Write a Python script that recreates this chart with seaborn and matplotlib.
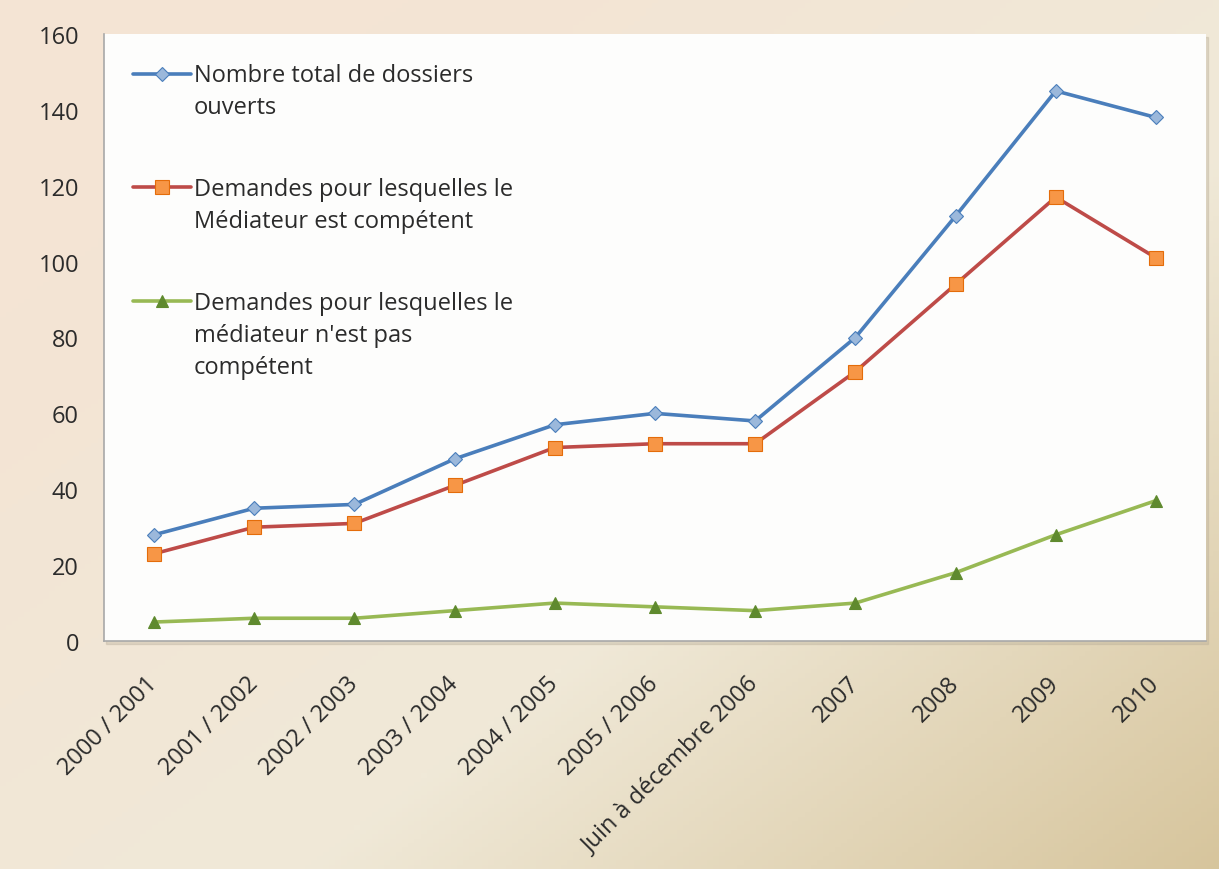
import numpy as np
import pandas as pd
import matplotlib
matplotlib.use("Agg")
import matplotlib.pyplot as plt
import matplotlib.patches as mpatches
import seaborn as sns

# -----------------------------
# Data
# -----------------------------
periodes = ["2000 / 2001", "2001 / 2002", "2002 / 2003", "2003 / 2004", "2004 / 2005",
            "2005 / 2006", "Juin à décembre 2006", "2007", "2008", "2009", "2010"]
total_dossiers = [28, 35, 36, 48, 57, 60, 58, 80, 112, 145, 138]
competent = [23, 30, 31, 41, 51, 52, 52, 71, 94, 117, 101]
non_competent = [5, 6, 6, 8, 10, 9, 8, 10, 18, 28, 37]

labels = ["Nombre total de dossiers\nouverts",
          "Demandes pour lesquelles le\nMédiateur est compétent",
          "Demandes pour lesquelles le\nmédiateur n'est pas\ncompétent"]

sns.set_theme(style="white")
plt.rcParams['font.family'] = ['Open Sans', 'DejaVu Sans']

fig = plt.figure(figsize=(12.19, 8.70), dpi=100)

# beige gradient background
bg = fig.add_axes([0, 0, 1, 1], zorder=-10)
yy, xx = np.mgrid[0:1:200j, 0:1:200j]
t = np.clip(0.6 * xx + 0.55 * yy - 0.2, 0, 1)[..., None]
c1 = np.array([244, 228, 212]) / 255
c2 = np.array([240, 233, 216]) / 255
c3 = np.array([212, 193, 150]) / 255
img = np.where(t < 0.5, c1 + (c2 - c1) * (t / 0.5), c2 + (c3 - c2) * ((t - 0.5) / 0.5))
bg.imshow(img, aspect='auto', extent=[0, 1, 0, 1], origin='upper')
bg.axis('off')

ax_pos = [104 / 1219, 228 / 870, 1102 / 1219, 607 / 870]
# soft shadow behind the plot area
fig.patches.append(mpatches.Rectangle((ax_pos[0] + 0.002, ax_pos[1] - 0.003), ax_pos[2], ax_pos[3],
                                      transform=fig.transFigure, color='#b8ad98', alpha=0.35,
                                      zorder=-5))
ax = fig.add_axes(ax_pos)
ax.set_facecolor('#fdfdfc')

x = np.arange(len(periodes))
df = pd.DataFrame({'x': x, 'total': total_dossiers, 'comp': competent, 'noncomp': non_competent})

sns.lineplot(data=df, x='x', y='total', ax=ax, color='#4a7ebb', linewidth=2.6,
             marker='D', markersize=7, markerfacecolor='#9bb8db', markeredgecolor='#4a7ebb',
             markeredgewidth=0.8, label=labels[0])
sns.lineplot(data=df, x='x', y='comp', ax=ax, color='#be4b48', linewidth=2.6,
             marker='s', markersize=9.5, markerfacecolor='#f79646', markeredgecolor='#e46c0a',
             markeredgewidth=0.8, label=labels[1])
sns.lineplot(data=df, x='x', y='noncomp', ax=ax, color='#98b954', linewidth=2.6,
             marker='^', markersize=8.5, markerfacecolor='#5f8a2e', markeredgecolor='#5f8a2e',
             markeredgewidth=0.8, label=labels[2])

ax.set_xlim(-0.5, 10.5)
ax.set_ylim(0, 160)
ax.set_yticks(range(0, 161, 20))
ax.set_xticks(x)
ax.set_xticklabels(periodes, rotation=45, ha='right', va='center', rotation_mode='anchor')
ax.set_xlabel("")
ax.set_ylabel("")
ax.tick_params(axis='both', length=0, labelsize=17, labelcolor='#2b2b2b')
ax.tick_params(axis='y', pad=18)
ax.tick_params(axis='x', pad=28)

for s in ['top', 'right']:
    ax.spines[s].set_visible(False)
for s in ['left', 'bottom']:
    ax.spines[s].set_color('#a8a8a8')
    ax.spines[s].set_linewidth(1.2)

leg = ax.legend(loc='upper left', bbox_to_anchor=(29 / 1102, 0.952), frameon=False,
                fontsize=17, labelspacing=2.45, handlelength=2.45, handletextpad=0.13,
                handleheight=1.3, borderpad=0, borderaxespad=0)
for t_ in leg.get_texts():
    t_.set_color('#2b2b2b')
    t_.set_linespacing(1.45)
# put the legend marker on the first line of each label
for col in leg._legend_handle_box.get_children():
    for item in col.get_children():
        item.align = 'top'

fig.savefig('out.png', dpi=100)
